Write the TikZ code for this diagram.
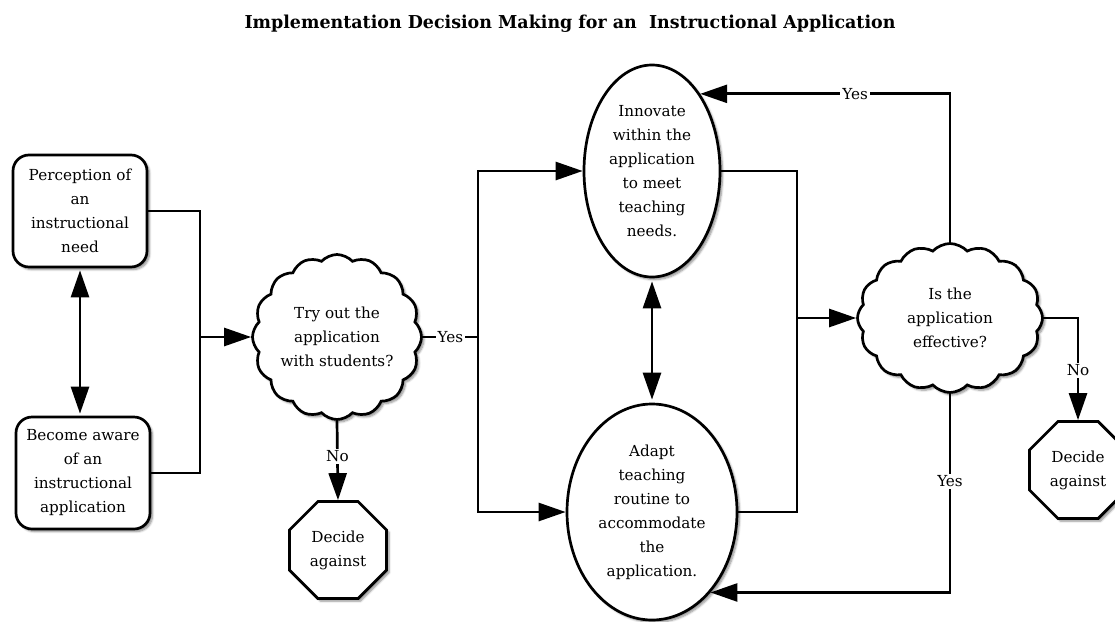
\documentclass[tikz,border=0pt]{standalone}
\usepackage{fontspec}
\usepackage{graphicx}
\setmainfont{DejaVu Serif}
\usetikzlibrary{shapes.geometric,shapes.symbols,arrows.meta,shadows.blur,calc}

\tikzset{
  conn/.style={line width=2.7pt, black},
  arr/.style={conn, -{Triangle[length=27pt,width=18pt]}},
  darr/.style={conn, {Triangle[length=27pt,width=18pt]}-{Triangle[length=27pt,width=18pt]}},
  softshadow/.style={blur shadow={shadow xshift=2.5pt, shadow yshift=-2.5pt, shadow blur steps=6, shadow opacity=45}},
  body/.style={font=\fontsize{15.2pt}{24pt}\selectfont, align=center},
  box/.style={body, draw, line width=2.7pt, fill=white, rectangle, rounded corners=16pt,
              minimum width=134pt, minimum height=112pt, inner sep=1pt, softshadow},
  oval/.style={body, draw, line width=2.7pt, fill=white, ellipse, inner sep=0pt, softshadow},
  puff/.style={body, draw, line width=2.7pt, fill=white, cloud, cloud puffs=16, cloud puff arc=95,
               cloud ignores aspect, inner sep=0pt, softshadow},
  stop/.style={body, draw, line width=2.7pt, fill=white, regular polygon, regular polygon sides=8,
               minimum size=105pt, inner sep=0pt, softshadow},
  lbl/.style={font=\fontsize{15.2pt}{18pt}\selectfont, fill=white, inner sep=2pt}
}

\begin{document}
\begin{tikzpicture}[x=1pt, y=-1pt]
  \useasboundingbox (0,0) rectangle (1115,621);

  % title
  \node (title) at (570,24) {\resizebox{651pt}{13.5pt}{\bfseries Implementation Decision Making for an\ \ Instructional Application}};

  % starting points
  \node[box] (need)  at (80,211) {Perception of\\an\\instructional\\need};
  \node[box] (aware) at (83,473) {Become aware\\of an\\instructional\\application};

  % first decision
  \node[puff, minimum width=169pt, minimum height=165pt] (try) at (337,337) {Try out the\\application\\with students?};
  \node[stop] (stopA) at (338,550) {Decide\\against};

  % the two ways of implementing
  \node[oval, minimum width=136pt, minimum height=212pt] (innov) at (652,171) {Innovate\\within the\\application\\to meet\\teaching\\needs.};
  \node[oval, minimum width=170pt, minimum height=216pt] (adapt) at (652,512) {Adapt\\teaching\\routine to\\accommodate\\the\\application.};

  % evaluation
  \node[puff, minimum width=185pt, minimum height=149pt] (eff) at (950,318) {Is the\\application\\effective?};
  \node[stop] (stopB) at (1078,470) {Decide\\against};

  % junction points
  \coordinate (joinL) at (200,337);
  \coordinate (yesJ) at (478,337);
  \coordinate (joinR) at (797,318);

  % connectors on the left
  \draw[conn] (need.east) -| (joinL);
  \draw[conn] (aware.east) -| (joinL);
  \draw[arr] (joinL) -- (try.west);
  \draw[darr, shorten <=2pt, shorten >=2pt] (need.south) -- (need.south |- aware.north);

  % first decision outcomes
  \draw[conn] (try.east) -- node[lbl] {Yes} (yesJ);
  \draw[arr] (yesJ) |- (innov.west);
  \draw[arr] (yesJ) |- (adapt.west);
  \draw[arr] (try.south) -- node[lbl, pos=0.45] {No} (stopA.north);

  % between the two ellipses
  \draw[darr, shorten <=3pt, shorten >=3pt] (innov.south) -- (adapt.north);

  % into the evaluation
  \draw[conn] (innov.east) -| (joinR);
  \draw[conn] (adapt.east) -| (joinR);
  \draw[arr] (joinR) -- (eff.west);

  % evaluation outcomes
  \draw[arr] (eff.north) |- node[lbl, pos=0.69] {Yes} (innov.58);
  \draw[arr] (eff.south) |- node[lbl, pos=0.22] {Yes} (adapt.-54);
  \draw[arr] (eff.east) -| node[lbl, pos=0.757] {No} (stopB.north);
\end{tikzpicture}
\end{document}
